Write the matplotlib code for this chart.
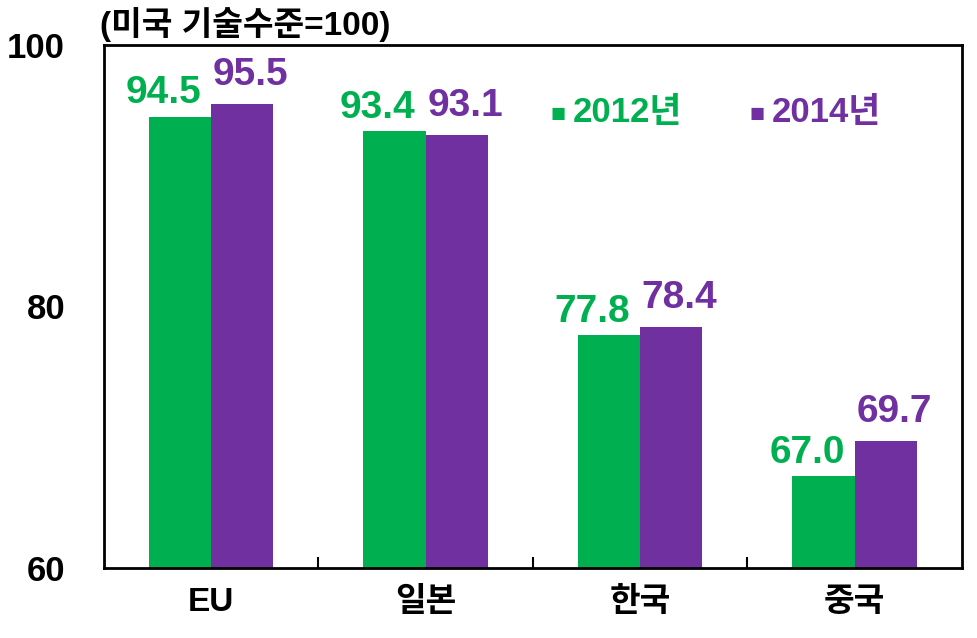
import numpy as np
import matplotlib
matplotlib.use("Agg")
import matplotlib.pyplot as plt

plt.rcParams['font.family'] = ['Liberation Sans', 'Noto Sans CJK KR', 'DejaVu Sans']
plt.rcParams['font.weight'] = 'bold'

countries = ["EU", "일본", "한국", "중국"]
years = ["2012년", "2014년"]
v2012 = [94.5, 93.4, 77.8, 67.0]
v2014 = [95.5, 93.1, 78.4, 69.7]

green = "#00B050"
purple = "#7030A0"

fig = plt.figure(figsize=(9.77, 6.38), dpi=100)
ax = fig.add_axes([0.1064, 0.1097, 0.8782, 0.8198])

x = np.arange(len(countries))
w = 0.29
b1 = ax.bar(x - w / 2, v2012, w, color=green)
b2 = ax.bar(x + w / 2, v2014, w, color=purple)

for rect, v in zip(b1, v2012):
    ax.annotate(f"{v:.1f}", (rect.get_x() + rect.get_width() / 2, v),
                xytext=(-12, 4), textcoords="offset points", ha="center", va="bottom",
                color=green, fontsize=28, fontweight="bold")
for rect, v in zip(b2, v2014):
    ax.annotate(f"{v:.1f}", (rect.get_x() + rect.get_width() / 2, v),
                xytext=(6, 8), textcoords="offset points", ha="center", va="bottom",
                color=purple, fontsize=28, fontweight="bold")

ax.set_ylim(60, 100)
ax.set_xlim(-0.5, len(countries) - 0.5)
ax.set_yticks([60, 80, 100])
ax.set_yticklabels(["60", "80", "100"], fontsize=25, fontweight="bold")
ax.set_xticks(x)
ax.set_xticklabels(countries, fontsize=24, fontweight="bold")
ax.set_xticks(np.arange(0.5, len(countries) - 1, 1), minor=True)
ax.tick_params(axis="x", which="major", length=0, pad=14)
ax.tick_params(axis="x", which="minor", direction="in", length=8, width=1.5)
ax.tick_params(axis="y", length=0, pad=28)
for s in ax.spines.values():
    s.set_linewidth(2)

ax.text(-0.005, 1.005, "(미국 기술수준=100)", transform=ax.transAxes,
        fontsize=24, fontweight="bold", ha="left", va="bottom")

ax.text(0.52, 0.868, "■", transform=ax.transAxes, color=green, fontsize=18, va="center")
ax.text(0.546, 0.87, years[0], transform=ax.transAxes, color=green, fontsize=25,
        fontweight="bold", va="center")
ax.text(0.752, 0.868, "■", transform=ax.transAxes, color=purple, fontsize=18, va="center")
ax.text(0.778, 0.87, years[1], transform=ax.transAxes, color=purple, fontsize=25,
        fontweight="bold", va="center")

fig.savefig("out.png", dpi=100)
